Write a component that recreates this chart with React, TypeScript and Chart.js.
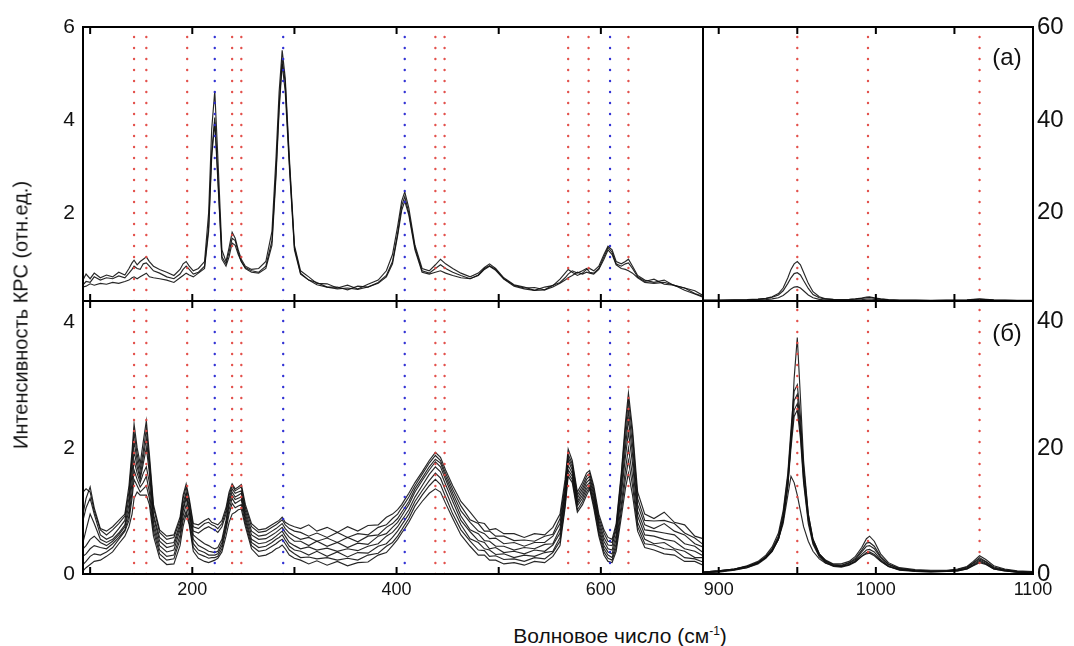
import React, { useEffect, useRef } from "react";
import { Chart, registerables } from "chart.js";

Chart.register(...registerables);

// ---------- data ----------
const LEFT_X = [
  93, 96, 100, 104, 110, 116, 122, 128, 134, 138,
  141, 143, 146, 149, 152, 155, 158, 162, 168, 175,
  182, 188, 191, 194, 197, 201, 206, 212, 216, 219,
  222, 225, 229, 233, 236, 239, 242, 245, 248, 252,
  258, 265, 272, 278, 282, 285, 288, 291, 295, 300,
  306, 314, 322, 332, 342, 352, 362, 372, 382, 390,
  396, 401, 405, 408, 412, 418, 425, 432, 438, 443,
  448, 455, 463, 472, 480, 486, 491, 497, 505, 515,
  525, 535, 545, 553, 560, 565, 568, 572, 577, 582,
  586, 589, 593, 598, 603, 607, 611, 615, 620, 624,
  627, 631, 636, 643, 652, 662, 672, 682, 692, 700,
];

// panel (a), low-frequency part
const TOP_A = [
  0.55, 0.68, 0.58, 0.70, 0.60, 0.66, 0.62, 0.72, 0.66, 0.80,
  0.92, 0.98, 0.88, 0.95, 1.00, 1.05, 0.95, 0.85, 0.78, 0.72,
  0.65, 0.78, 0.90, 0.95, 0.85, 0.75, 0.80, 0.95, 2.00, 3.80,
  4.62, 3.20, 1.20, 0.95, 1.25, 1.58, 1.45, 1.20, 1.00, 0.85,
  0.78, 0.80, 0.95, 1.60, 3.20, 4.60, 5.50, 4.90, 3.20, 1.30,
  0.75, 0.62, 0.48, 0.47, 0.38, 0.44, 0.36, 0.46, 0.55, 0.75,
  1.10, 1.70, 2.25, 2.45, 2.10, 1.30, 0.80, 0.75, 0.88, 1.00,
  0.90, 0.80, 0.70, 0.62, 0.70, 0.82, 0.90, 0.80, 0.60, 0.45,
  0.40, 0.33, 0.40, 0.43, 0.57, 0.70, 0.78, 0.72, 0.65, 0.70,
  0.78, 0.80, 0.75, 0.85, 1.10, 1.28, 1.20, 0.95, 0.90, 0.95,
  1.00, 0.85, 0.65, 0.55, 0.50, 0.55, 0.43, 0.38, 0.26, 0.20,
];
const TOP_B = [
  0.45, 0.52, 0.50, 0.62, 0.55, 0.60, 0.58, 0.64, 0.60, 0.70,
  0.78, 0.85, 0.80, 0.78, 0.90, 0.92, 0.85, 0.75, 0.70, 0.62,
  0.58, 0.68, 0.78, 0.85, 0.78, 0.68, 0.72, 0.85, 1.70, 3.30,
  4.05, 2.80, 1.05, 0.90, 1.15, 1.45, 1.40, 1.15, 0.95, 0.82,
  0.75, 0.72, 0.85, 1.40, 2.90, 4.30, 5.30, 4.80, 3.10, 1.25,
  0.70, 0.55, 0.50, 0.40, 0.40, 0.34, 0.42, 0.40, 0.50, 0.65,
  0.95, 1.55, 2.15, 2.35, 2.00, 1.25, 0.75, 0.70, 0.80, 0.88,
  0.80, 0.72, 0.65, 0.58, 0.66, 0.80, 0.86, 0.78, 0.58, 0.44,
  0.38, 0.39, 0.34, 0.44, 0.50, 0.60, 0.68, 0.75, 0.70, 0.75,
  0.80, 0.72, 0.70, 0.80, 1.05, 1.25, 1.15, 0.90, 0.85, 0.90,
  0.92, 0.80, 0.62, 0.52, 0.57, 0.46, 0.44, 0.38, 0.32, 0.22,
];
const TOP_C = [
  0.40, 0.42, 0.47, 0.44, 0.48, 0.46, 0.50, 0.48, 0.52, 0.55,
  0.60, 0.62, 0.58, 0.62, 0.66, 0.70, 0.62, 0.60, 0.58, 0.55,
  0.50, 0.60, 0.65, 0.70, 0.66, 0.62, 0.70, 0.80, 1.60, 3.20,
  3.95, 2.70, 1.00, 0.85, 1.05, 1.35, 1.30, 1.10, 0.95, 0.80,
  0.72, 0.70, 0.80, 1.30, 2.80, 4.20, 5.20, 4.60, 3.00, 1.20,
  0.68, 0.55, 0.45, 0.40, 0.36, 0.38, 0.35, 0.40, 0.48, 0.62,
  0.90, 1.50, 2.05, 2.25, 1.95, 1.20, 0.72, 0.68, 0.72, 0.75,
  0.70, 0.65, 0.60, 0.58, 0.65, 0.78, 0.85, 0.76, 0.57, 0.42,
  0.36, 0.33, 0.34, 0.40, 0.48, 0.55, 0.60, 0.65, 0.72, 0.68,
  0.72, 0.70, 0.68, 0.78, 1.00, 1.20, 1.10, 0.88, 0.80, 0.78,
  0.75, 0.70, 0.60, 0.50, 0.48, 0.50, 0.44, 0.33, 0.25, 0.18,
];

// panel (б), low-frequency part
const BOT_1 = [
  0.95, 1.20, 1.38, 1.05, 0.72, 0.68, 0.75, 0.85, 0.95, 1.40,
  1.95, 2.38, 2.00, 1.75, 2.10, 2.43, 1.90, 1.10, 0.70, 0.60,
  0.62, 0.90, 1.25, 1.43, 1.20, 0.80, 0.78, 0.85, 0.88, 0.82,
  0.80, 0.78, 0.85, 1.05, 1.30, 1.43, 1.35, 1.38, 1.42, 1.10,
  0.80, 0.70, 0.72, 0.78, 0.82, 0.85, 0.90, 0.82, 0.78, 0.75,
  0.72, 0.78, 0.68, 0.74, 0.66, 0.75, 0.68, 0.77, 0.78, 0.90,
  0.95, 1.02, 1.10, 1.18, 1.28, 1.45, 1.62, 1.80, 1.93, 1.85,
  1.65, 1.40, 1.15, 0.98, 0.82, 0.80, 0.70, 0.72, 0.64, 0.64,
  0.58, 0.64, 0.62, 0.74, 0.95, 1.50, 1.98, 1.80, 1.30, 1.45,
  1.60, 1.64, 1.40, 0.95, 0.70, 0.58, 0.55, 0.80, 1.60, 2.40,
  2.87, 2.30, 1.30, 0.95, 0.88, 0.98, 0.82, 0.78, 0.60, 0.56,
];
const BOT_2 = [
  1.30, 1.35, 1.30, 1.00, 0.70, 0.62, 0.70, 0.80, 0.92, 1.30,
  1.85, 2.25, 1.90, 1.65, 1.95, 2.30, 1.80, 1.05, 0.66, 0.55,
  0.58, 0.85, 1.20, 1.38, 1.15, 0.75, 0.72, 0.80, 0.82, 0.78,
  0.76, 0.72, 0.80, 1.00, 1.25, 1.40, 1.32, 1.35, 1.38, 1.05,
  0.75, 0.66, 0.68, 0.74, 0.78, 0.82, 0.86, 0.78, 0.72, 0.68,
  0.66, 0.60, 0.65, 0.58, 0.66, 0.58, 0.64, 0.62, 0.74, 0.78,
  0.88, 0.95, 1.05, 1.12, 1.22, 1.40, 1.58, 1.76, 1.88, 1.80,
  1.60, 1.34, 1.08, 0.86, 0.80, 0.68, 0.68, 0.60, 0.60, 0.53,
  0.54, 0.52, 0.60, 0.63, 0.88, 1.42, 1.90, 1.75, 1.25, 1.40,
  1.55, 1.60, 1.35, 0.90, 0.65, 0.52, 0.50, 0.75, 1.55, 2.30,
  2.75, 2.20, 1.20, 0.85, 0.84, 0.85, 0.80, 0.65, 0.57, 0.47,
];
const BOT_3 = [
  0.85, 1.05, 1.20, 0.95, 0.62, 0.55, 0.60, 0.72, 0.85, 1.20,
  1.75, 2.10, 1.80, 1.55, 1.85, 2.15, 1.70, 0.95, 0.58, 0.48,
  0.50, 0.80, 1.12, 1.30, 1.08, 0.68, 0.65, 0.72, 0.75, 0.72,
  0.70, 0.66, 0.75, 0.95, 1.20, 1.35, 1.28, 1.30, 1.32, 1.00,
  0.68, 0.60, 0.62, 0.68, 0.72, 0.76, 0.80, 0.72, 0.65, 0.60,
  0.55, 0.58, 0.52, 0.57, 0.50, 0.58, 0.51, 0.60, 0.62, 0.74,
  0.80, 0.88, 0.98, 1.05, 1.15, 1.35, 1.52, 1.70, 1.82, 1.76,
  1.55, 1.28, 1.00, 0.82, 0.68, 0.64, 0.56, 0.57, 0.48, 0.50,
  0.44, 0.50, 0.50, 0.60, 0.80, 1.36, 1.85, 1.70, 1.20, 1.35,
  1.50, 1.55, 1.30, 0.85, 0.58, 0.46, 0.45, 0.70, 1.45, 2.15,
  2.60, 2.05, 1.10, 0.78, 0.72, 0.80, 0.68, 0.62, 0.48, 0.43,
];
const BOT_4 = [
  0.50, 0.70, 0.95, 0.80, 0.55, 0.50, 0.55, 0.65, 0.78, 1.10,
  1.60, 1.95, 1.70, 1.50, 1.75, 2.00, 1.60, 0.90, 0.52, 0.42,
  0.45, 0.75, 1.05, 1.25, 1.02, 0.62, 0.55, 0.48, 0.45, 0.42,
  0.40, 0.42, 0.55, 0.85, 1.15, 1.30, 1.22, 1.25, 1.28, 0.95,
  0.62, 0.55, 0.56, 0.62, 0.66, 0.70, 0.74, 0.66, 0.58, 0.52,
  0.52, 0.45, 0.52, 0.44, 0.50, 0.42, 0.49, 0.47, 0.60, 0.64,
  0.74, 0.82, 0.92, 1.00, 1.10, 1.30, 1.48, 1.65, 1.78, 1.70,
  1.50, 1.22, 0.92, 0.70, 0.64, 0.53, 0.52, 0.44, 0.44, 0.38,
  0.42, 0.40, 0.47, 0.48, 0.72, 1.30, 1.80, 1.65, 1.15, 1.30,
  1.45, 1.50, 1.25, 0.80, 0.52, 0.40, 0.38, 0.62, 1.35, 2.00,
  2.45, 1.90, 1.00, 0.70, 0.68, 0.65, 0.62, 0.48, 0.44, 0.34,
];
const BOT_5 = [
  0.40, 0.45, 0.55, 0.60, 0.50, 0.45, 0.52, 0.62, 0.75, 1.00,
  1.45, 1.80, 1.60, 1.45, 1.60, 1.70, 1.45, 0.82, 0.45, 0.35,
  0.38, 0.70, 1.00, 1.20, 0.98, 0.55, 0.45, 0.40, 0.36, 0.35,
  0.34, 0.36, 0.50, 0.80, 1.10, 1.25, 1.18, 1.20, 1.22, 0.90,
  0.55, 0.48, 0.50, 0.55, 0.60, 0.64, 0.68, 0.60, 0.50, 0.45,
  0.40, 0.43, 0.38, 0.41, 0.36, 0.40, 0.37, 0.44, 0.48, 0.60,
  0.66, 0.75, 0.85, 0.92, 1.02, 1.22, 1.40, 1.58, 1.70, 1.62,
  1.42, 1.15, 0.85, 0.67, 0.53, 0.50, 0.40, 0.42, 0.34, 0.36,
  0.32, 0.38, 0.36, 0.46, 0.65, 1.25, 1.72, 1.60, 1.12, 1.25,
  1.40, 1.45, 1.20, 0.75, 0.45, 0.35, 0.32, 0.55, 1.25, 1.85,
  2.25, 1.75, 0.92, 0.62, 0.60, 0.55, 0.52, 0.40, 0.36, 0.29,
];
const BOT_6 = [
  0.28, 0.32, 0.40, 0.45, 0.42, 0.40, 0.48, 0.58, 0.70, 0.92,
  1.30, 1.65, 1.50, 1.38, 1.45, 1.55, 1.30, 0.75, 0.38, 0.28,
  0.30, 0.62, 0.92, 1.10, 0.90, 0.48, 0.38, 0.34, 0.30, 0.30,
  0.30, 0.32, 0.45, 0.75, 1.02, 1.20, 1.12, 1.15, 1.18, 0.85,
  0.50, 0.42, 0.44, 0.50, 0.55, 0.58, 0.62, 0.54, 0.44, 0.38,
  0.36, 0.30, 0.36, 0.28, 0.35, 0.27, 0.34, 0.33, 0.44, 0.48,
  0.58, 0.68, 0.78, 0.85, 0.95, 1.15, 1.32, 1.48, 1.60, 1.52,
  1.32, 1.05, 0.78, 0.56, 0.50, 0.40, 0.38, 0.31, 0.32, 0.26,
  0.30, 0.28, 0.34, 0.36, 0.58, 1.18, 1.65, 1.55, 1.08, 1.20,
  1.35, 1.40, 1.15, 0.70, 0.40, 0.30, 0.26, 0.48, 1.10, 1.65,
  2.00, 1.55, 0.82, 0.55, 0.48, 0.50, 0.40, 0.36, 0.26, 0.26,
];
const BOT_7 = [
  0.15, 0.20, 0.28, 0.32, 0.30, 0.35, 0.42, 0.55, 0.68, 0.85,
  1.20, 1.50, 1.40, 1.30, 1.35, 1.40, 1.20, 0.68, 0.32, 0.22,
  0.24, 0.55, 0.85, 1.00, 0.82, 0.42, 0.32, 0.28, 0.25, 0.26,
  0.26, 0.28, 0.40, 0.70, 0.95, 1.12, 1.05, 1.08, 1.10, 0.80,
  0.45, 0.36, 0.38, 0.44, 0.48, 0.52, 0.55, 0.48, 0.38, 0.32,
  0.26, 0.27, 0.24, 0.26, 0.22, 0.25, 0.22, 0.30, 0.33, 0.44,
  0.50, 0.60, 0.70, 0.78, 0.88, 1.08, 1.25, 1.40, 1.50, 1.42,
  1.22, 0.95, 0.70, 0.52, 0.38, 0.37, 0.28, 0.29, 0.23, 0.24,
  0.20, 0.26, 0.24, 0.34, 0.52, 1.10, 1.60, 1.50, 1.02, 1.15,
  1.30, 1.38, 1.10, 0.65, 0.35, 0.25, 0.22, 0.42, 1.00, 1.50,
  1.80, 1.40, 0.75, 0.48, 0.46, 0.40, 0.38, 0.26, 0.24, 0.19,
];
const BOT_8 = [
  0.05, 0.10, 0.15, 0.20, 0.22, 0.28, 0.35, 0.48, 0.60, 0.75,
  0.95, 1.20, 1.30, 1.25, 1.25, 1.25, 1.10, 0.60, 0.25, 0.15,
  0.16, 0.45, 0.75, 0.95, 0.78, 0.36, 0.25, 0.20, 0.18, 0.20,
  0.22, 0.25, 0.35, 0.60, 0.82, 0.95, 0.98, 1.02, 1.03, 0.75,
  0.40, 0.28, 0.30, 0.35, 0.40, 0.42, 0.46, 0.40, 0.30, 0.25,
  0.22, 0.16, 0.21, 0.14, 0.20, 0.13, 0.18, 0.19, 0.30, 0.34,
  0.45, 0.55, 0.65, 0.72, 0.82, 1.00, 1.15, 1.28, 1.35, 1.30,
  1.12, 0.88, 0.62, 0.44, 0.30, 0.30, 0.22, 0.22, 0.16, 0.18,
  0.14, 0.20, 0.18, 0.28, 0.45, 1.05, 1.55, 1.45, 0.98, 1.10,
  1.25, 1.35, 1.05, 0.60, 0.30, 0.20, 0.18, 0.36, 0.90, 1.35,
  1.60, 1.25, 0.68, 0.42, 0.38, 0.32, 0.30, 0.20, 0.20, 0.14,
];

const RIGHT_X = [
  890, 900, 910, 918, 925, 930, 934, 938, 941, 944,
  946, 948, 950, 952, 954, 957, 960, 964, 968, 973,
  978, 983, 987, 991, 994, 996, 999, 1003, 1008, 1015,
  1025, 1035, 1045, 1052, 1058, 1062, 1066, 1070, 1075, 1082,
  1090, 1100,
];

// panel (a), high-frequency part
const TR_1 = [
  1.2, 1.2, 1.25, 1.3, 1.4, 1.6, 1.9, 2.6, 3.8, 6.0,
  7.8, 9.0, 9.5, 8.8, 7.2, 4.8, 3.0, 1.9, 1.5, 1.35,
  1.3, 1.35, 1.45, 1.65, 1.85, 1.9, 1.7, 1.45, 1.3, 1.2,
  1.2, 1.15, 1.2, 1.2, 1.25, 1.35, 1.45, 1.35, 1.25, 1.2,
  1.15, 1.15,
];
const TR_2 = [
  1.15, 1.15, 1.2, 1.25, 1.35, 1.5, 1.8, 2.3, 3.2, 4.8,
  6.0, 6.9, 7.1, 6.6, 5.4, 3.7, 2.4, 1.7, 1.4, 1.3,
  1.25, 1.3, 1.4, 1.55, 1.7, 1.75, 1.6, 1.4, 1.25, 1.15,
  1.15, 1.1, 1.15, 1.15, 1.2, 1.3, 1.38, 1.3, 1.2, 1.15,
  1.1, 1.1,
];
const TR_3 = [
  1.1, 1.1, 1.12, 1.15, 1.2, 1.3, 1.45, 1.7, 2.2, 3.0,
  3.6, 4.0, 4.1, 3.8, 3.2, 2.3, 1.7, 1.35, 1.2, 1.15,
  1.12, 1.15, 1.2, 1.3, 1.4, 1.42, 1.35, 1.25, 1.15, 1.1,
  1.1, 1.08, 1.1, 1.1, 1.12, 1.18, 1.25, 1.2, 1.12, 1.1,
  1.08, 1.08,
];

// panel (б), high-frequency part
const BR_1 = [
  0.3, 0.5, 0.8, 1.2, 1.8, 2.6, 3.6, 5.5, 8.5, 14,
  21, 31, 37.5, 28, 18, 9.5, 5.5, 3.2, 2.2, 1.6,
  1.6, 2.0, 2.8, 4.2, 5.6, 6.0, 5.2, 3.2, 1.8, 1.0,
  0.7, 0.6, 0.6, 0.8, 1.2, 2.0, 2.9, 2.3, 1.3, 0.8,
  0.5, 0.4,
];
const BR_2 = [
  0.3, 0.5, 0.8, 1.3, 2.0, 3.0, 4.3, 6.5, 10, 16,
  23, 29, 30, 25, 17, 9.5, 5.5, 3.2, 2.1, 1.5,
  1.4, 1.8, 2.5, 3.8, 4.9, 5.0, 4.4, 2.8, 1.6, 0.9,
  0.6, 0.5, 0.5, 0.7, 1.1, 1.8, 2.6, 2.0, 1.1, 0.7,
  0.4, 0.3,
];
const BR_3 = [
  0.2, 0.4, 0.7, 1.1, 1.8, 2.8, 4.0, 6.0, 9.5, 15.5,
  22, 27.5, 28.5, 23.5, 16, 9, 5.2, 3.0, 2.0, 1.4,
  1.3, 1.7, 2.3, 3.5, 4.4, 4.5, 4.0, 2.6, 1.5, 0.8,
  0.5, 0.4, 0.5, 0.6, 1.0, 1.7, 2.4, 1.9, 1.0, 0.6,
  0.4, 0.3,
];
const BR_4 = [
  0.2, 0.4, 0.7, 1.0, 1.7, 2.6, 3.8, 5.8, 9, 14.5,
  21, 26, 27, 22.5, 15, 8.5, 5.0, 2.9, 1.9, 1.3,
  1.2, 1.5, 2.1, 3.1, 3.8, 3.9, 3.5, 2.3, 1.3, 0.7,
  0.5, 0.4, 0.4, 0.6, 0.9, 1.5, 2.2, 1.7, 0.9, 0.6,
  0.3, 0.2,
];
const BR_5 = [
  0.2, 0.3, 0.6, 1.0, 1.6, 2.5, 3.6, 5.5, 8.5, 14,
  20, 25, 26, 21.5, 14.5, 8, 4.7, 2.7, 1.8, 1.2,
  1.1, 1.4, 1.9, 2.8, 3.4, 3.5, 3.1, 2.1, 1.2, 0.6,
  0.4, 0.3, 0.4, 0.5, 0.8, 1.4, 2.0, 1.6, 0.8, 0.5,
  0.3, 0.2,
];
const BR_6 = [
  0.3, 0.5, 0.8, 1.2, 1.8, 2.7, 3.8, 5.5, 8.0, 12.5,
  15.5, 14.5, 12.5, 10, 7.5, 5.2, 3.6, 2.4, 1.7, 1.3,
  1.2, 1.5, 2.0, 2.8, 3.2, 3.3, 2.9, 2.0, 1.2, 0.7,
  0.5, 0.4, 0.4, 0.5, 0.8, 1.3, 1.8, 1.5, 0.8, 0.5,
  0.3, 0.2,
];

// reference lines (wavenumbers)
const RED_LINES_LEFT = [143, 155, 195, 239, 248, 438, 447, 568, 588, 627];
const BLUE_LINES_LEFT = [222, 289, 408, 609];
const RED_LINES_RIGHT = [950, 995, 1066];

// ticks
const TL_Y_TICKS = [2, 4, 6];
const BL_Y_TICKS = [0, 2, 4];
const TR_Y_TICKS = [20, 40, 60];
const BR_Y_TICKS = [0, 20, 40];
const LEFT_X_LABELS = [200, 400, 600];
const RIGHT_X_LABELS = [900, 1000, 1100];
const LEFT_X_MARKS = [100, 200, 300, 400, 500, 600];
const RIGHT_X_MARKS = [900, 950, 1000, 1050];

// ---------- rendering ----------
const FONT = "'Liberation Sans', Arial, Helvetica, sans-serif";
const RED = "rgba(226, 72, 66, 0.95)";
const BLUE = "rgba(40, 40, 210, 0.95)";
const M = 30;

type Spec = {
  ax: number; ay: number; aw: number; ah: number;
  xMin: number; xMax: number; yMin: number; yMax: number;
  yPos: "left" | "right"; yWidth: number; yTicks: number[]; yFont: number; yPad: number;
  xLabels: number[] | null; xMarks: number[];
  xs: number[]; curves: number[][];
  red: number[]; blue: number[];
};

const framePlugin = {
  id: "frameTicks",
  afterDatasetsDraw(chart: any, _args: any, opts: any) {
    const { ctx, chartArea: a } = chart;
    const sx = chart.scales.x;
    ctx.save();
    ctx.strokeStyle = "#000";
    ctx.lineWidth = 2;
    ctx.strokeRect(a.left, a.top, a.right - a.left, a.bottom - a.top);
    (opts.marks || []).forEach((v: number) => {
      const px = sx.getPixelForValue(v);
      if (px <= a.left + 2 || px >= a.right - 2) return;
      ctx.beginPath();
      ctx.moveTo(px, a.top);
      ctx.lineTo(px, a.top + 7);
      ctx.moveTo(px, a.bottom);
      ctx.lineTo(px, a.bottom - 7);
      ctx.stroke();
    });
    ctx.restore();
  },
};

function canvasBox(s: Spec) {
  const left = s.yPos === "left" ? s.ax - s.yWidth : s.ax - M;
  const top = s.ay - M;
  const xH = s.xLabels ? 40 : 0;
  const width = s.yPos === "left" ? s.yWidth + s.aw + M : M + s.aw + s.yWidth;
  const height = M + s.ah + (s.xLabels ? xH : M);
  const padding = {
    left: s.yPos === "left" ? 0 : M,
    right: s.yPos === "left" ? M : 0,
    top: M,
    bottom: s.xLabels ? 0 : M,
  };
  return { left, top, width, height, padding, xH };
}

function buildConfig(s: Spec): any {
  const box = canvasBox(s);
  const datasets: any[] = [];
  const dot = (v: number, color: string) => ({
    data: [{ x: v, y: s.yMin }, { x: v, y: s.yMax }],
    borderColor: color,
    borderWidth: 2.4,
    borderDash: [0, 11],
    borderCapStyle: "round",
    pointRadius: 0,
    fill: false,
    order: -1,
  });
  s.red.forEach((v) => datasets.push(dot(v, RED)));
  s.blue.forEach((v) => datasets.push(dot(v, BLUE)));
  s.curves.forEach((c) => {
    const n = Math.min(c.length, s.xs.length);
    const pts: any[] = [];
    for (let i = 0; i < n; i++) pts.push({ x: s.xs[i], y: c[i] });
    datasets.push({
      data: pts,
      borderColor: "rgba(15,15,15,0.9)",
      borderWidth: 1.15,
      pointRadius: 0,
      tension: 0,
      fill: false,
      order: 1,
    });
  });
  return {
    type: "line",
    data: { datasets },
    plugins: [framePlugin],
    options: {
      animation: false,
      responsive: false,
      maintainAspectRatio: false,
      events: [],
      layout: { padding: box.padding },
      plugins: {
        legend: { display: false },
        tooltip: { enabled: false },
        title: { display: false },
        frameTicks: { marks: s.xMarks },
      },
      scales: {
        x: {
          type: "linear",
          min: s.xMin,
          max: s.xMax,
          display: !!s.xLabels,
          grid: { display: false, drawTicks: false },
          border: { display: false },
          ticks: {
            color: "#111",
            font: { family: FONT, size: 18 },
            padding: 5,
            maxRotation: 0,
            autoSkip: false,
            callback: (v: any) => String(v),
          },
          afterBuildTicks: (sc: any) => {
            if (s.xLabels) sc.ticks = s.xLabels.map((v) => ({ value: v }));
          },
          afterFit: (sc: any) => {
            sc.height = box.xH;
          },
        },
        y: {
          type: "linear",
          position: s.yPos,
          min: s.yMin,
          max: s.yMax,
          grid: { display: false, drawTicks: false },
          border: { display: false },
          ticks: {
            color: "#111",
            font: { family: FONT, size: s.yFont },
            padding: s.yPad,
            autoSkip: false,
            callback: (v: any) => String(v),
          },
          afterBuildTicks: (sc: any) => {
            sc.ticks = s.yTicks.map((v) => ({ value: v }));
          },
          afterFit: (sc: any) => {
            sc.width = s.yWidth;
          },
        },
      },
    },
  };
}

function Panel({ spec }: { spec: Spec }) {
  const ref = useRef<HTMLCanvasElement | null>(null);
  const box = canvasBox(spec);
  useEffect(() => {
    if (!ref.current) return;
    const chart = new Chart(ref.current, buildConfig(spec));
    return () => chart.destroy();
  }, []);
  return (
    <canvas
      ref={ref}
      width={box.width}
      height={box.height}
      style={{
        position: "absolute",
        left: box.left,
        top: box.top,
        width: box.width,
        height: box.height,
      }}
    />
  );
}

const LEFT_W = 620;
const RIGHT_W = 330;
const TOP_H = 274;
const BOT_H = 273;

const SPECS: Spec[] = [
  {
    ax: 83, ay: 27, aw: LEFT_W, ah: TOP_H,
    xMin: 93, xMax: 700, yMin: 0.1, yMax: 6,
    yPos: "left", yWidth: 83, yTicks: TL_Y_TICKS, yFont: 21, yPad: 8,
    xLabels: null, xMarks: LEFT_X_MARKS,
    xs: LEFT_X, curves: [TOP_A, TOP_B, TOP_C],
    red: RED_LINES_LEFT, blue: BLUE_LINES_LEFT,
  },
  {
    ax: 703, ay: 27, aw: RIGHT_W, ah: TOP_H,
    xMin: 890, xMax: 1100, yMin: 1, yMax: 60,
    yPos: "right", yWidth: 41, yTicks: TR_Y_TICKS, yFont: 24, yPad: 4,
    xLabels: null, xMarks: RIGHT_X_MARKS,
    xs: RIGHT_X, curves: [TR_1, TR_2, TR_3],
    red: RED_LINES_RIGHT, blue: [],
  },
  {
    ax: 83, ay: 301, aw: LEFT_W, ah: BOT_H,
    xMin: 93, xMax: 700, yMin: 0, yMax: 4.33,
    yPos: "left", yWidth: 83, yTicks: BL_Y_TICKS, yFont: 21, yPad: 8,
    xLabels: LEFT_X_LABELS, xMarks: LEFT_X_MARKS,
    xs: LEFT_X, curves: [BOT_1, BOT_2, BOT_3, BOT_4, BOT_5, BOT_6, BOT_7, BOT_8],
    red: RED_LINES_LEFT, blue: BLUE_LINES_LEFT,
  },
  {
    ax: 703, ay: 301, aw: RIGHT_W, ah: BOT_H,
    xMin: 890, xMax: 1100, yMin: 0, yMax: 43.3,
    yPos: "right", yWidth: 41, yTicks: BR_Y_TICKS, yFont: 24, yPad: 4,
    xLabels: RIGHT_X_LABELS, xMarks: RIGHT_X_MARKS,
    xs: RIGHT_X, curves: [BR_1, BR_2, BR_3, BR_4, BR_5, BR_6],
    red: RED_LINES_RIGHT, blue: [],
  },
];

export default function App() {
  return (
    <div
      style={{
        position: "absolute",
        left: 0,
        top: 0,
        width: 1074,
        height: 646,
        background: "#fff",
        overflow: "hidden",
        fontFamily: FONT,
        color: "#111",
      }}
    >
      {SPECS.map((s, i) => (
        <Panel key={i} spec={s} />
      ))}
      <div
        style={{
          position: "absolute",
          left: 21,
          top: 315,
          transform: "translate(-50%, -50%) rotate(-90deg)",
          whiteSpace: "nowrap",
          fontSize: 20,
        }}
      >
        Интенсивность КРС (отн.ед.)
      </div>
      <div
        style={{
          position: "absolute",
          left: 620,
          top: 636,
          transform: "translate(-50%, -50%)",
          whiteSpace: "nowrap",
          fontSize: 21,
        }}
      >
        Волновое число (см<sup style={{ fontSize: 12 }}>-1</sup>)
      </div>
      <div
        style={{
          position: "absolute",
          left: 1007,
          top: 57,
          transform: "translate(-50%, -50%)",
          fontSize: 24,
        }}
      >
        (а)
      </div>
      <div
        style={{
          position: "absolute",
          left: 1007,
          top: 333,
          transform: "translate(-50%, -50%)",
          fontSize: 24,
        }}
      >
        (б)
      </div>
    </div>
  );
}
